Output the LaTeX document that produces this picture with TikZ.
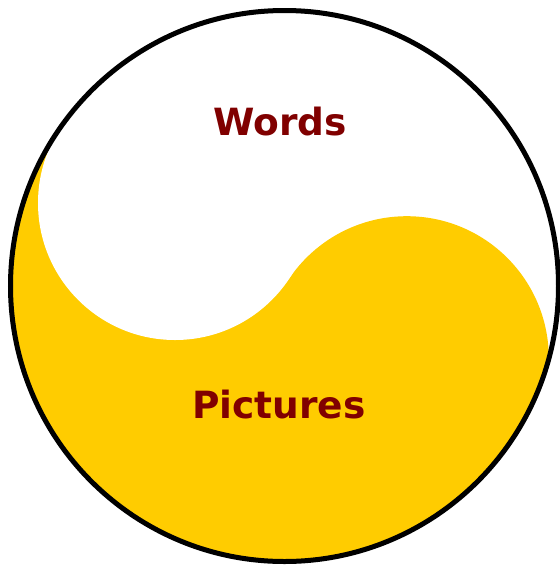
\documentclass[tikz,border=0pt]{standalone}
\usepackage{fontspec}
\newfontfamily\labelfont{DejaVu Sans}
\definecolor{gold}{HTML}{FFCC00}
\definecolor{maroonred}{HTML}{800000}
\begin{document}
\begin{tikzpicture}[x=1pt,y=-1pt,
  lbl/.style={font=\labelfont\bfseries\fontsize{37.5}{42}\selectfont, text=maroonred, anchor=base, inner sep=0pt}]
\useasboundingbox[fill=white] (0,0) rectangle (560,566);
\begin{scope}
  \clip (284.5,286) circle [x radius=274, y radius=275.5];
  \fill[gold] (406.8,358.2) circle [radius=142];
  \fill[gold] (-300,-115) -- (900,688) -- (-300,900) -- cycle;
  \fill[white] (175,203) circle [radius=137];
\end{scope}
\draw[line width=5pt] (284.5,286) circle [x radius=274, y radius=275.5];
\node[lbl] (words) at (280,135) {Words};
\node[lbl] (pictures) at (279,418) {Pictures};
\end{tikzpicture}
\end{document}
